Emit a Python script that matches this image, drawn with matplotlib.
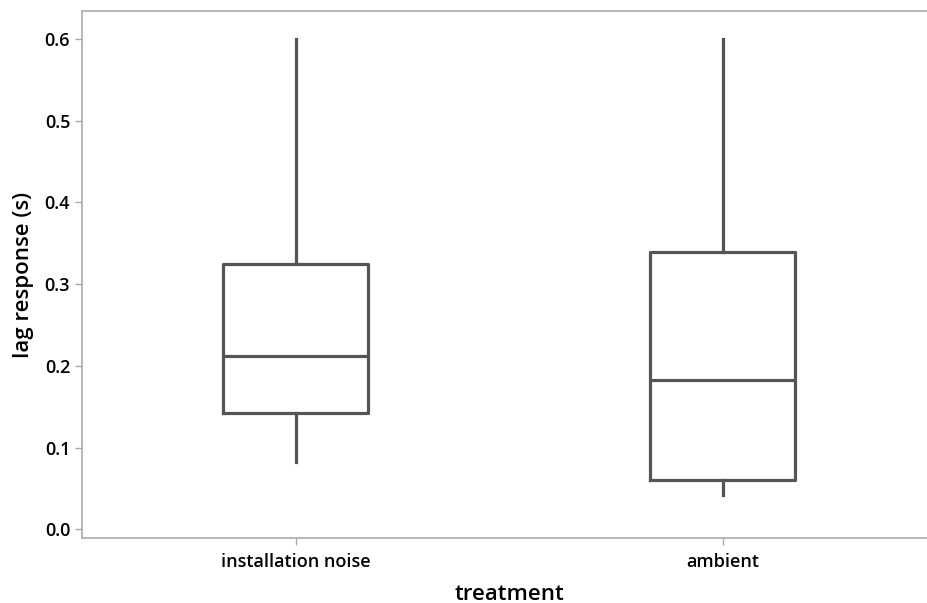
import matplotlib
matplotlib.use("Agg")
import matplotlib.pyplot as plt

categories = ["installation noise", "ambient"]
whisker_low = [0.082, 0.042]
q1 = [0.142, 0.060]
median = [0.212, 0.182]
q3 = [0.325, 0.339]
whisker_high = [0.600, 0.600]

plt.rcParams["font.family"] = ["Open Sans", "DejaVu Sans"]

W, H = 927, 603
fig = plt.figure(figsize=(W / 100, H / 100), dpi=100)
ax = fig.add_axes([82 / W, (H - 538) / H, (W - 82) / W + 0.01, (538 - 11) / H])

stats = []
for i, name in enumerate(categories):
    stats.append(dict(label=name, whislo=whisker_low[i], q1=q1[i], med=median[i],
                      q3=q3[i], whishi=whisker_high[i], fliers=[]))

line_col = "#555555"
lw = 2.3
ax.bxp(stats, positions=range(len(categories)), widths=0.34, showcaps=False,
       showfliers=False, patch_artist=False,
       boxprops=dict(color=line_col, linewidth=lw),
       whiskerprops=dict(color=line_col, linewidth=lw),
       medianprops=dict(color=line_col, linewidth=lw))

ax.set_xlim(-0.5, 1.478 + 0.01 * W / 427)
ax.set_ylim(-0.0107, 0.634)
ax.set_yticks([0.0, 0.1, 0.2, 0.3, 0.4, 0.5, 0.6])
ax.set_yticklabels(["0.0", "0.1", "0.2", "0.3", "0.4", "0.5", "0.6"])
ax.set_xticks(range(len(categories)))
ax.set_xticklabels(categories)

frame_col = "#aaaaaa"
for side in ["left", "top", "bottom"]:
    ax.spines[side].set_color(frame_col)
    ax.spines[side].set_linewidth(1.2)
ax.spines["right"].set_visible(False)
ax.tick_params(axis="both", colors=frame_col, labelcolor="black", labelsize=13,
               length=5, width=1)
for lab in ax.get_xticklabels() + ax.get_yticklabels():
    lab.set_fontweight("semibold")
ax.tick_params(axis="x", pad=6)

ax.set_xlabel("treatment", fontsize=16, fontweight="semibold", labelpad=9)
ax.set_ylabel("lag response (s)", fontsize=16, fontweight="semibold", labelpad=8)

fig.savefig("out.png", dpi=100)
